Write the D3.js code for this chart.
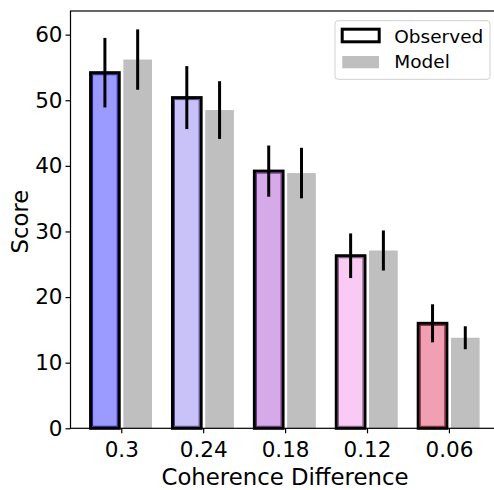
<!DOCTYPE html>
<html>
<head>
<meta charset="utf-8">
<script src="https://cdn.jsdelivr.net/npm/d3@7"></script>
<style>
  html, body { margin: 0; padding: 0; background: #fff; }
  svg { display: block; font-family: "DejaVu Sans", sans-serif; }
</style>
</head>
<body>
<svg id="chart" width="494" height="490"></svg>
<script>
// Coherence levels on the x axis
const categories = ["0.3", "0.24", "0.18", "0.12", "0.06"];
// Observed scores and their error half-widths
const observed = [54.2, 50.4, 39.2, 26.3, 16.0];
const observedErr = [5.3, 4.8, 3.9, 3.4, 2.9];
// Model scores and their error half-widths
const model = [56.2, 48.5, 38.9, 27.1, 13.8];
const modelErr = [4.6, 4.4, 3.85, 3.05, 1.75];
// Per-condition fill and inner edge colours for observed bars
const obsFill = ["#9a9aff", "#c9c2f8", "#d6a9e8", "#f8caf4", "#f0a0b2"];
const obsEdge = ["#1c1c86", "#4a3f80", "#5a2a78", "#7a4a78", "#7a1a2a"];
const yTicks = [0, 10, 20, 30, 40, 50, 60];

const svg = d3.select("#chart");
const plotLeft = 70.5, plotRight = 499.7, plotTop = 11, plotBottom = 428.3;

const x = d3.scaleLinear().domain([-0.62, 4.62]).range([plotLeft, plotRight]);
const y = d3.scaleLinear().domain([0, 63.6]).range([plotBottom, plotTop]);
const barW = x(0.35) - x(0);
const offset = 0.2;

// Model bars (grey)
svg.append("g").selectAll("rect").data(model).join("rect")
  .attr("x", (d, i) => x(i + offset) - barW / 2)
  .attr("y", d => y(d))
  .attr("width", barW)
  .attr("height", d => y(0) - y(d))
  .attr("fill", "#bfbfbf");

// Observed bars: black outline with a thin coloured inner edge
const obs = svg.append("g").selectAll("g").data(observed).join("g");
obs.append("rect")
  .attr("x", (d, i) => x(i - offset) - barW / 2)
  .attr("y", d => y(d))
  .attr("width", barW)
  .attr("height", d => y(0) - y(d))
  .attr("fill", (d, i) => obsFill[i])
  .attr("stroke", "#000")
  .attr("stroke-width", 3);
obs.append("rect")
  .attr("x", (d, i) => x(i - offset) - barW / 2 + 2)
  .attr("y", d => y(d) + 2)
  .attr("width", barW - 4)
  .attr("height", d => y(0) - y(d) - 4)
  .attr("fill", "none")
  .attr("stroke", (d, i) => obsEdge[i])
  .attr("stroke-width", 1);

// Error bars
const errG = svg.append("g").attr("stroke", "#000").attr("stroke-width", 3);
errG.selectAll("line.obs").data(observed).join("line")
  .attr("class", "obs")
  .attr("x1", (d, i) => x(i - offset)).attr("x2", (d, i) => x(i - offset))
  .attr("y1", (d, i) => y(d + observedErr[i]))
  .attr("y2", (d, i) => y(d - observedErr[i]));
errG.selectAll("line.mod").data(model).join("line")
  .attr("class", "mod")
  .attr("x1", (d, i) => x(i + offset)).attr("x2", (d, i) => x(i + offset))
  .attr("y1", (d, i) => y(d + modelErr[i]))
  .attr("y2", (d, i) => y(d - modelErr[i]));

// Axes
const yAxis = svg.append("g")
  .attr("transform", `translate(${plotLeft},0)`)
  .call(d3.axisLeft(y).tickValues(yTicks).tickSize(5).tickPadding(3));
yAxis.selectAll("text").attr("font-size", 21.5).attr("fill", "#000")
  .attr("font-family", "DejaVu Sans");

const xAxis = svg.append("g")
  .attr("transform", `translate(0,${plotBottom})`)
  .call(d3.axisBottom(x).tickValues(d3.range(categories.length))
    .tickFormat(i => categories[i]).tickSize(5).tickPadding(8));
xAxis.selectAll("text").attr("font-size", 21.5).attr("fill", "#000")
  .attr("font-family", "DejaVu Sans");

[yAxis, xAxis].forEach(a => {
  a.select(".domain").remove();
  a.selectAll(".tick line").attr("stroke", "#000").attr("stroke-width", 1.2);
});

// Frame
svg.append("rect")
  .attr("x", plotLeft).attr("y", plotTop)
  .attr("width", plotRight - plotLeft).attr("height", plotBottom - plotTop)
  .attr("fill", "none").attr("stroke", "#000").attr("stroke-width", 1.2);

// Axis titles
svg.append("text")
  .attr("x", 285).attr("y", 485)
  .attr("text-anchor", "middle").attr("font-size", 22.8)
  .text("Coherence Difference");
svg.append("text")
  .attr("transform", `translate(28,${(plotTop + plotBottom) / 2 + 2}) rotate(-90)`)
  .attr("text-anchor", "middle").attr("font-size", 22.8)
  .text("Score");

// Legend
const lg = svg.append("g");
lg.append("rect")
  .attr("x", 335).attr("y", 20.7).attr("width", 155).attr("height", 58.6)
  .attr("rx", 3).attr("fill", "#fff").attr("fill-opacity", 0.8)
  .attr("stroke", "#d0d0d0").attr("stroke-width", 1);
lg.append("rect")
  .attr("x", 342.2).attr("y", 29.2).attr("width", 37).attr("height", 12.6)
  .attr("fill", "#fff").attr("stroke", "#000").attr("stroke-width", 3);
lg.append("rect")
  .attr("x", 342.3).attr("y", 56).attr("width", 36.7).attr("height", 12.3)
  .attr("fill", "#bfbfbf");
lg.append("text").attr("x", 394.3).attr("y", 42.5).attr("font-size", 18.5).text("Observed");
lg.append("text").attr("x", 394.3).attr("y", 68.3).attr("font-size", 18.5).text("Model");
</script>
</body>
</html>
